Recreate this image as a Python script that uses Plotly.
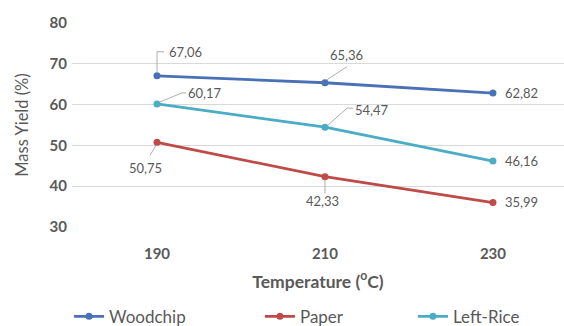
import plotly.graph_objects as go

# Mass yield per feedstock at each hydrothermal temperature
temperatures = ["190", "210", "230"]
woodchip = [67.06, 65.36, 62.82]
paper = [50.75, 42.33, 35.99]
left_rice = [60.17, 54.47, 46.16]

series = [
    ("Woodchip", woodchip, "#4A70B6", "legend"),
    ("Paper", paper, "#BE4B48", "legend2"),
    ("Left-Rice", left_rice, "#4BACC6", "legend3"),
]

FONT = "Lato, 'Open Sans', sans-serif"
GREY = "#595959"
LEADER = "#A6A6A6"

fig = go.Figure()
for name, vals, color, leg in series:
    fig.add_trace(go.Scatter(
        x=list(range(len(temperatures))), y=vals, name=name,
        mode="lines+markers",
        line=dict(color=color, width=2.8),
        marker=dict(color=color, size=7),
        legend=leg,
    ))

# data labels: (values, index, text dx, text dy (px, up positive), leader polyline)
label_pos = [
    (woodchip, 0, 28, 24, [(0, 4), (0, 24), (7, 24)]),
    (woodchip, 1, 22, 28, [(2, 3), (22, 16)]),
    (woodchip, 2, 29, 0, None),
    (left_rice, 0, 48, 11, [(3, 2), (25, 11), (29, 11)]),
    (left_rice, 1, 47, 17, [(3, 2), (22, 19), (28, 19)]),
    (left_rice, 2, 29, 0, None),
    (paper, 0, -12, -26, [(-1, -3), (-7, -13)]),
    (paper, 1, -2, -24, [(0, -3), (0, -17)]),
    (paper, 2, 29, 1, None),
]
for vals, i, dx, dy, leader in label_pos:
    fig.add_annotation(
        x=i, y=vals[i], text=f"{vals[i]:.2f}".replace(".", ","),
        showarrow=False, xshift=dx, yshift=dy,
        xanchor="center", yanchor="middle",
        font=dict(family=FONT, size=13, color=GREY),
    )
    if leader:
        path = "M " + " L ".join(f"{px},{py}" for px, py in leader)
        fig.add_shape(
            type="path", path=path,
            xref="x", yref="y", xsizemode="pixel", ysizemode="pixel",
            xanchor=i, yanchor=vals[i],
            line=dict(color=LEADER, width=0.9),
        )

legend_common = dict(
    orientation="h", yanchor="middle", y=-0.44, xanchor="left",
    font=dict(family=FONT, size=17, color=GREY),
    bgcolor="rgba(0,0,0,0)", itemwidth=30,
)

fig.update_layout(
    width=564, height=326,
    margin=dict(l=72, r=0, t=23, b=99, autoexpand=False),
    paper_bgcolor="white", plot_bgcolor="white",
    showlegend=True,
    legend=dict(legend_common, x=-0.006),
    legend2=dict(legend_common, x=0.382),
    legend3=dict(legend_common, x=0.693),
    xaxis=dict(
        tickmode="array", tickvals=list(range(len(temperatures))),
        ticktext=[f"<b>{t}</b>" for t in temperatures],
        range=[-0.506, 2.423], showgrid=False, zeroline=False,
        showline=False, ticks="", ticklabelstandoff=16,
        tickfont=dict(family=FONT, size=15, color=GREY),
        title=dict(text="<b>Temperature (<sup>o</sup>C)</b>",
                   font=dict(family=FONT, size=17.5, color=GREY), standoff=14),
    ),
    yaxis=dict(
        range=[30, 80], showgrid=True, gridcolor="#D9D9D9",
        gridwidth=1, zeroline=False, showline=False, ticks="",
        ticklabelstandoff=4,
        tickvals=[30, 40, 50, 60, 70, 80],
        ticktext=[f"<b>{v}</b>" for v in [30, 40, 50, 60, 70, 80]],
        tickfont=dict(family=FONT, size=15, color=GREY),
        title=dict(text="Mass Yield (%)",
                   font=dict(family=FONT, size=16.5, color=GREY), standoff=16),
    ),
)

fig.write_html("out.html")
